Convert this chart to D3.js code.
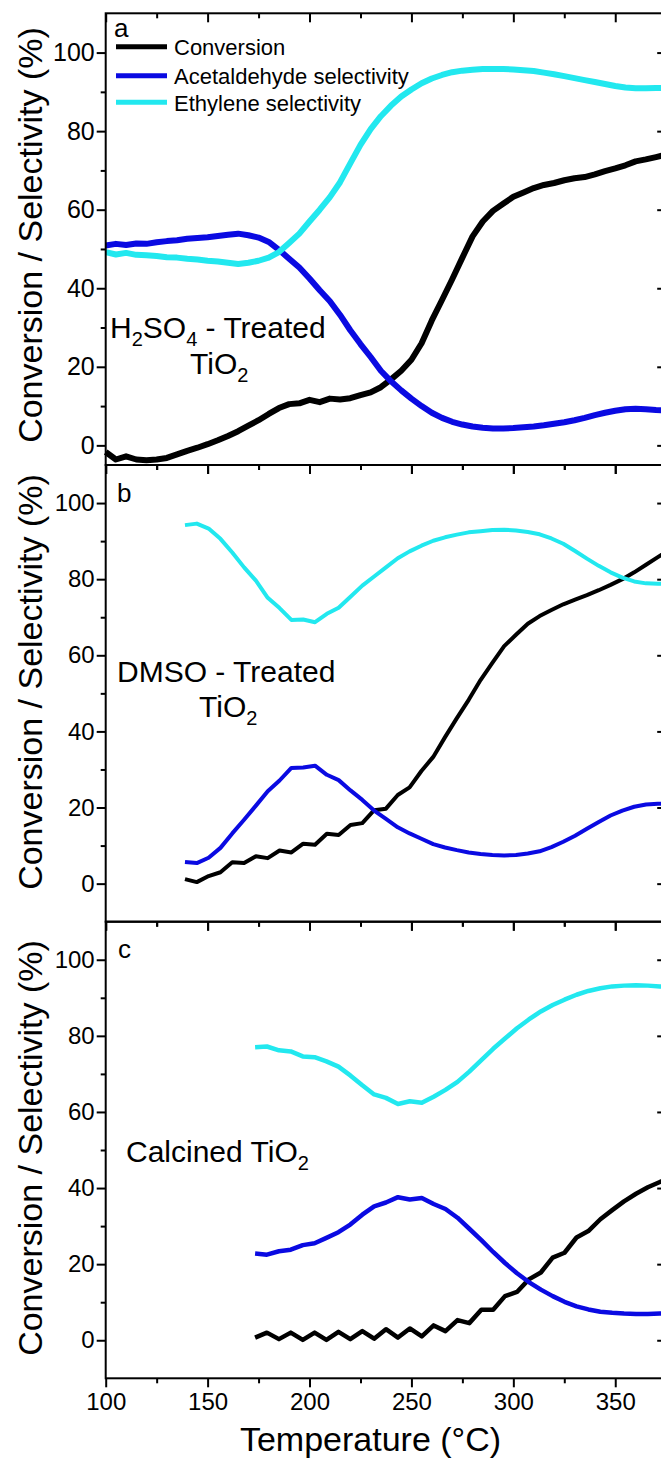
<!DOCTYPE html>
<html>
<head>
<meta charset="utf-8">
<script src="https://cdn.jsdelivr.net/npm/d3@7"></script>
<style>
  html, body { margin: 0; padding: 0; background: #fff; overflow: hidden; }
  svg { display: block; font-family: "Liberation Sans", Arial, Helvetica, sans-serif; }
</style>
</head>
<body>
<svg id="chart" width="661" height="1458"></svg>
<script>
// ---- Panel a: H2SO4-treated TiO2 ----
const tempA = [100,105,110,115,120,125,130,135,140,145,150,155,160,165,170,175,180,185,190,195,
  200,205,210,215,220,225,230,235,240,245,250,255,260,265,270,275,280,285,290,295,
  300,305,310,315,320,325,330,335,340,345,350,355,360,365,370,375];
const convA = [-1.7,-3.6,-2.8,-3.6,-3.8,-3.6,-3.2,-2.3,-1.4,-0.6,0.3,1.3,2.4,3.6,5.0,6.4,8.0,9.5,10.5,10.7,
  11.6,11.0,11.9,11.7,12.0,12.8,13.5,14.8,16.8,19.0,21.8,26.0,31.8,37.0,42.3,47.8,53.2,57.0,59.7,61.5,
  63.3,64.4,65.5,66.3,66.8,67.5,68.0,68.3,69.0,69.8,70.5,71.3,72.3,72.8,73.4,74.0];
const acetA = [50.9,51.3,51.0,51.4,51.3,51.7,52.0,52.2,52.6,52.8,53.0,53.3,53.6,53.9,53.5,52.9,51.8,49.8,47.5,45.3,
  42.5,39.5,36.7,33.2,29.3,25.8,22.5,19.0,16.3,14.0,11.9,10.0,8.3,7.0,6.0,5.3,4.8,4.5,4.3,4.3,
  4.4,4.6,4.8,5.1,5.5,5.9,6.4,7.0,7.7,8.3,8.8,9.2,9.3,9.2,9.0,8.9];
const ethA = [49.2,48.6,49.0,48.5,48.4,48.2,47.9,47.8,47.5,47.3,47.0,46.8,46.5,46.2,46.5,47.0,47.8,49.2,51.5,53.9,
  57.0,60.0,63.2,67.0,71.8,76.5,80.5,83.8,86.5,88.8,90.6,92.2,93.4,94.3,95.0,95.4,95.6,95.8,95.8,95.8,
  95.7,95.5,95.3,94.9,94.5,94.0,93.5,93.0,92.5,92.0,91.5,91.1,90.9,90.9,91.0,91.0];

// ---- Panel b: DMSO-treated TiO2 ----
const tempB = [138.9,144.7,150.5,156.3,162.1,167.9,173.7,179.5,185.3,191.1,196.9,202.7,208.5,214.3,220.1,225.9,
  231.7,237.5,243.3,249.1,254.9,260.7,266.5,272.3,278.1,283.9,289.7,295.5,301.3,307.1,312.9,318.7,
  324.5,330.3,336.1,341.9,347.7,353.5,359.3,365.1,370.9,376.7];
const convB = [1.2,0.4,2.0,3.0,5.6,5.4,7.2,6.7,8.7,8.2,10.5,10.2,13.1,12.8,15.4,15.9,19.3,19.7,23.3,25.3,
  29.6,33.3,38.5,43.5,48.3,53.5,58.0,62.4,65.4,68.3,70.3,71.9,73.4,74.6,75.8,77.1,78.5,80.0,81.8,83.8,
  85.8,87.8];
const acetB = [5.7,5.4,6.8,9.4,13.2,16.8,20.5,24.3,27.1,30.4,30.5,31.0,28.6,27.2,24.5,22.0,19.2,17.0,14.8,13.2,
  11.8,10.4,9.5,8.8,8.2,7.8,7.5,7.4,7.5,7.9,8.5,9.6,11.0,12.6,14.4,16.2,17.9,19.2,20.2,20.8,
  21.0,21.0];
const ethB = [94.2,94.6,93.3,90.6,87.0,83.1,79.6,75.1,72.4,69.3,69.4,68.7,70.9,72.5,75.4,78.3,80.7,83.1,85.5,87.3,
  88.8,90.1,91.0,91.7,92.3,92.6,92.9,93.0,92.8,92.4,91.8,90.7,89.3,87.4,85.4,83.5,81.8,80.4,79.4,78.9,
  78.8,78.8];

// ---- Panel c: calcined TiO2 ----
const tempC = [173.3,179.1,185.0,190.8,196.7,202.5,208.3,214.2,220.0,225.9,231.7,237.5,243.4,249.2,255.1,260.9,
  266.7,272.6,278.4,284.3,290.1,295.9,301.8,307.6,313.5,319.3,325.1,331.0,336.8,342.7,348.5,354.3,
  360.2,366.0,371.9,377.7];
const convC = [0.7,2.0,0.3,2.0,0.1,2.0,0.1,2.2,0.3,2.4,0.4,2.9,0.7,3.1,1.0,3.9,2.4,5.3,4.5,8.0,
  8.0,11.6,12.7,16.0,17.8,21.7,23.0,27.0,28.7,31.8,34.2,36.5,38.5,40.2,41.6,43.0];
const acetC = [22.8,22.5,23.4,23.8,25.0,25.5,26.9,28.4,30.4,33.0,35.2,36.2,37.6,37.0,37.4,35.8,34.5,32.2,29.3,26.3,
  23.2,20.3,17.6,15.3,13.3,11.6,10.1,8.9,8.1,7.5,7.2,7.0,6.9,6.9,7.0,7.0];
const ethC = [77.0,77.2,76.2,75.9,74.6,74.4,73.3,71.9,69.6,67.0,64.6,63.7,62.1,62.8,62.4,64.0,65.8,67.9,70.6,73.6,
  76.6,79.3,82.0,84.3,86.4,88.1,89.5,90.8,91.8,92.5,93.0,93.2,93.3,93.2,93.0,92.9];

// ---- Axis ticks and legend labels ----
const xMajorTicks = [100,150,200,250,300,350];
const xMinorTicks = [125,175,225,275,325,375];
const yMajorTicks = [0,20,40,60,80,100];
const yMinorTicks = [10,30,50,70,90];
const seriesNames = ["Conversion","Acetaldehyde selectivity","Ethylene selectivity"];
const seriesColors = ["#000000","#0a0ae2","#22e8ef"];

const svg = d3.select("#chart");
const xDomain = [100, 375];
const xLeft = 105.7, xRight = 666.2;
const x = d3.scaleLinear().domain(xDomain).range([xLeft, xRight]);

const panels = [
  { key: "a", top: 13.3, bottom: 465, yDomain: [-5, 110], temps: tempA,
    series: [convA, acetA, ethA], lw: 6, tickFont: 25, titleY: 235,
    label: { x: 114, y: 37 },
    note: [ { x: 110, y: 338, parts: [["H"],["2",1],["SO"],["4",1],[" - Treated"]] },
            { x: 190, y: 374, parts: [["TiO"],["2",1]] } ] },
  { key: "b", top: 465, bottom: 921.7, yDomain: [-10, 110], temps: tempB,
    series: [convB, acetB, ethB], lw: 4, tickFont: 24, titleY: 682,
    label: { x: 117, y: 502 },
    note: [ { x: 117, y: 682, parts: [["DMSO - Treated"]] },
            { x: 199, y: 717, parts: [["TiO"],["2",1]] } ] },
  { key: "c", top: 921.7, bottom: 1378.3, yDomain: [-10, 110], temps: tempC,
    series: [convC, acetC, ethC], lw: 4.5, tickFont: 24, titleY: 1148,
    label: { x: 118, y: 958 },
    note: [ { x: 126, y: 1162, parts: [["Calcined TiO"],["2",1]] } ] }
];

function styleAxis(g) {
  g.select(".domain").remove();
  g.selectAll(".tick line").attr("stroke", "#000").attr("stroke-width", 2);
}

panels.forEach((p, pi) => {
  const y = d3.scaleLinear().domain(p.yDomain).range([p.bottom, p.top]);
  const g = svg.append("g").attr("class", "panel-" + p.key);

  // data lines: conversion, acetaldehyde, ethylene (drawn in that order)
  const line = d3.line()
    .x((d, i) => x(p.temps[i]))
    .y(d => y(d))
    .curve(d3.curveLinear);
  p.series.forEach((vals, si) => {
    g.append("path")
      .datum(vals)
      .attr("d", line)
      .attr("fill", "none")
      .attr("stroke", seriesColors[si])
      .attr("stroke-width", p.lw)
      .attr("stroke-linejoin", "round")
      .attr("stroke-linecap", "butt");
  });

  // frame
  g.append("rect")
    .attr("x", xLeft).attr("y", p.top)
    .attr("width", xRight - xLeft).attr("height", p.bottom - p.top)
    .attr("fill", "none").attr("stroke", "#000").attr("stroke-width", 2);

  // left axis: outward ticks with labels
  g.append("g").attr("transform", `translate(${xLeft},0)`)
    .call(d3.axisLeft(y).tickValues(yMajorTicks).tickSize(9).tickPadding(2).tickFormat(d3.format("d")))
    .call(styleAxis)
    .call(a => a.selectAll("text").attr("font-size", p.tickFont).attr("fill", "#000")
      .attr("font-family", '"Liberation Sans", Arial, sans-serif'));
  g.append("g").attr("transform", `translate(${xLeft},0)`)
    .call(d3.axisLeft(y).tickValues(yMinorTicks).tickSize(5).tickFormat(""))
    .call(styleAxis);

  // right axis: inward ticks
  g.append("g").attr("transform", `translate(${xRight},0)`)
    .call(d3.axisLeft(y).tickValues(yMajorTicks).tickSize(9).tickFormat(""))
    .call(styleAxis);
  g.append("g").attr("transform", `translate(${xRight},0)`)
    .call(d3.axisLeft(y).tickValues(yMinorTicks).tickSize(5).tickFormat(""))
    .call(styleAxis);

  // top axis: inward ticks
  g.append("g").attr("transform", `translate(0,${p.top})`)
    .call(d3.axisBottom(x).tickValues(xMajorTicks).tickSize(9).tickFormat(""))
    .call(styleAxis);
  g.append("g").attr("transform", `translate(0,${p.top})`)
    .call(d3.axisBottom(x).tickValues(xMinorTicks).tickSize(5).tickFormat(""))
    .call(styleAxis);

  // bottom axis: outward ticks, labels only on the last panel
  const last = pi === panels.length - 1;
  g.append("g").attr("transform", `translate(0,${p.bottom})`)
    .call(d3.axisBottom(x).tickValues(xMajorTicks).tickSize(9).tickPadding(5.5)
      .tickFormat(last ? d3.format("d") : ""))
    .call(styleAxis)
    .call(a => a.selectAll("text").attr("font-size", 24).attr("fill", "#000")
      .attr("font-family", '"Liberation Sans", Arial, sans-serif'));
  g.append("g").attr("transform", `translate(0,${p.bottom})`)
    .call(d3.axisBottom(x).tickValues(xMinorTicks).tickSize(5).tickFormat(""))
    .call(styleAxis);

  // y-axis title
  g.append("text")
    .attr("transform", `translate(42,${p.titleY}) rotate(-90)`)
    .attr("text-anchor", "middle")
    .attr("font-size", 34)
    .text("Conversion / Selectivity (%)");

  // panel letter
  g.append("text")
    .attr("x", p.label.x).attr("y", p.label.y)
    .attr("font-size", 26)
    .text(p.key);

  // sample annotation with subscripts
  p.note.forEach(n => {
    const t = g.append("text").attr("x", n.x).attr("y", n.y).attr("font-size", 30);
    let shifted = false;
    n.parts.forEach(([s, sub]) => {
      const ts = t.append("tspan").text(s);
      if (sub) { ts.attr("font-size", 20).attr("dy", shifted ? 0 : 8); shifted = true; }
      else { if (shifted) { ts.attr("dy", -8); shifted = false; } }
    });
  });
});

// legend (panel a)
const legendRows = [46.7, 75.7, 102.3];
const legend = svg.append("g").attr("class", "legend");
seriesNames.forEach((name, i) => {
  legend.append("line")
    .attr("x1", 116).attr("x2", 167)
    .attr("y1", legendRows[i]).attr("y2", legendRows[i])
    .attr("stroke", seriesColors[i]).attr("stroke-width", 5);
  legend.append("text")
    .attr("x", 174).attr("y", legendRows[i] + 8.3)
    .attr("font-size", 22)
    .text(name);
});

// x-axis title
svg.append("text")
  .attr("x", 370.5).attr("y", 1451)
  .attr("text-anchor", "middle")
  .attr("font-size", 34)
  .text("Temperature (°C)");
</script>
</body>
</html>
